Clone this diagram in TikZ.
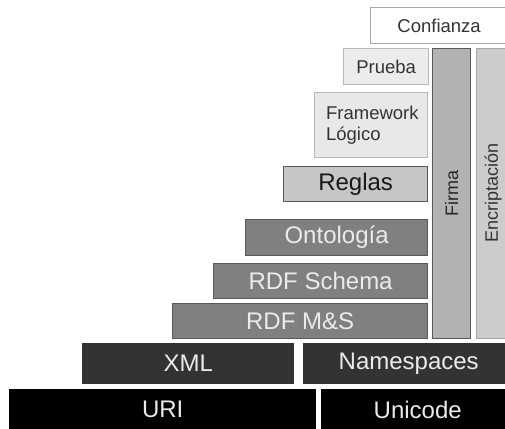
\documentclass[tikz,border=0pt]{standalone}
\usepackage{fontspec}
\setmainfont{Liberation Sans}
\begin{document}
\begin{tikzpicture}[x=1pt,y=-1pt,
  layer/.style={draw=#1, line width=1.2pt, inner sep=0pt, align=center},
  pale/.style={layer=gray!55, fill=gray!20, text=black!80, font=\fontsize{18.5}{21}\selectfont},
  mid/.style={layer=black!65, fill=gray!45, text=black!90, font=\fontsize{24}{26}\selectfont},
  dark/.style={layer=black!65, fill=black!50, text=white!92!black, font=\fontsize{24}{26}\selectfont},
  deep/.style={draw=none, fill=black!80, text=white!92!black, inner sep=0pt, font=\fontsize{24}{26}\selectfont},
  base/.style={draw=none, fill=black, text=white!92!black, inner sep=0pt, font=\fontsize{24}{26}\selectfont},
  column/.style={layer=black!65, minimum width=38pt, minimum height=290pt, font=\fontsize{18}{20}\selectfont}
]
\useasboundingbox (0,0) rectangle (505,428);

% top layers
\node[pale, fill=white, draw=gray!70, minimum width=137pt, minimum height=36pt, anchor=north west] (trust) at (370,7) {Confianza};
\node[pale, fill=gray!15, minimum width=85pt, minimum height=36pt, anchor=north west] (proof) at (343,48) {Prueba};
\node[pale, fill=gray!18, minimum width=113pt, minimum height=65pt, anchor=north west, align=left, text width=106pt, inner xsep=0pt] (logic) at (314,92) {\hspace*{8pt}Framework\\\hspace*{8pt}Lógico};
\node[mid, minimum width=144pt, minimum height=35pt, anchor=north west] (rules) at (283,166) {Reglas};

% ontology stack
\node[dark, minimum width=182pt, minimum height=36pt, anchor=north west] (onto) at (245,219) {Ontología};
\node[dark, minimum width=214pt, minimum height=35pt, anchor=north west] (rdfs) at (213,263) {RDF Schema};
\node[dark, minimum width=255pt, minimum height=35pt, anchor=north west] (rdfms) at (172,303) {RDF M\&S};

% vertical columns
\node[column, fill=gray!90!black!55, anchor=north west] (sig) at (432,48) {};
\node[rotate=90, text=black!85, font=\fontsize{18}{20}\selectfont] (sigtext) at (sig.center) {Firma};
\node[column, draw=gray!70, fill=gray!40, minimum width=36pt, anchor=north west] (enc) at (476,48) {};
\node[rotate=90, text=black!80, font=\fontsize{18}{20}\selectfont] (enctext) at (493,193) {Encriptación};

% base layers
\node[deep, minimum width=212pt, minimum height=41pt, anchor=north west] (xml) at (82,343) {XML};
\node[deep, minimum width=211pt, minimum height=41pt, anchor=north west] (ns) at (303,343) {Namespaces};
\node[base, minimum width=307pt, minimum height=41pt, anchor=north west] (uri) at (9,389) {URI};
\node[base, minimum width=193pt, minimum height=41pt, anchor=north west] (uni) at (321,389) {Unicode};
\end{tikzpicture}
\end{document}
